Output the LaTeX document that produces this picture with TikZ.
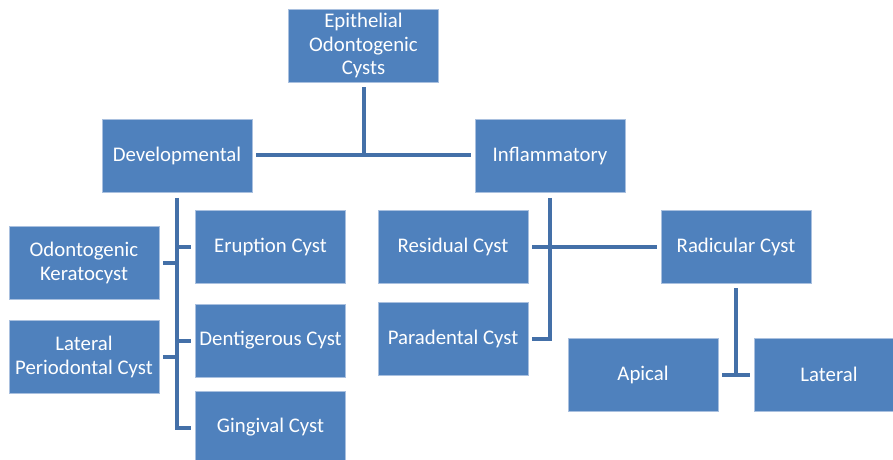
\documentclass[tikz,border=0pt]{standalone}
\usepackage{fontspec}
\setmainfont{Carlito}
\usetikzlibrary{calc}
\definecolor{boxblue}{HTML}{4F81BD}
\definecolor{boxedge}{HTML}{A9C0DF}
\definecolor{linkblue}{HTML}{4470A8}
\tikzset{
  box/.style={rectangle, fill=boxblue, draw=boxedge, line width=0.8pt,
    minimum width=150pt, minimum height=73pt, inner sep=2pt,
    text=white, align=center, font=\fontsize{20.8}{23.5}\selectfont},
  conn/.style={draw=linkblue, line width=4pt, line join=miter}
}
\begin{document}
\begin{tikzpicture}[x=1pt,y=-1pt]
\useasboundingbox (0,0) rectangle (893,459);
\clip (0,0) rectangle (893,459);
\node[box] (epi) at (363.5,45.5) {Epithelial\\Odontogenic\\Cysts};
\node[box] (dev) at (177,156) {Developmental};
\node[box] (inf) at (550,156) {Inflammatory};
\node[box] (erup) at (270.5,246.5) {Eruption Cyst};
\node[box] (dent) at (270.5,340.5) {Dentigerous Cyst};
\node[box] (ging) at (270.5,427.5) {Gingival Cyst};
\node[box] (okc) at (84,263) {Odontogenic\\Keratocyst};
\node[box] (lpc) at (84,357) {Lateral\\Periodontal Cyst};
\node[box] (res) at (453,246.5) {Residual Cyst};
\node[box] (para) at (453,339) {Paradental Cyst};
\node[box] (rad) at (736,246.5) {Radicular Cyst};
\node[box] (api) at (643,374.5) {Apical};
\node[box] (lat) at (829,374.5) {Lateral};
% top level
\draw[conn] ($(dev.east)+(4,-1)$) -- ($(inf.west)+(-4,-1)$);
\draw[conn] ($(epi.south)+(0,5)$) -- ($(epi.south |- dev.east)+(0,-1)$);
% developmental
\draw[conn] ($(dev.south)+(0,5)$) |- ($(ging.west)+(-4,0)$);
\draw[conn] (dev.south |- erup.west) -- ($(erup.west)+(-4,0)$);
\draw[conn] (dev.south |- dent.west) -- ($(dent.west)+(-4,0)$);
\draw[conn] (dev.south |- okc.east) -- ($(okc.east)+(4,0)$);
\draw[conn] (dev.south |- lpc.east) -- ($(lpc.east)+(4,0)$);
% inflammatory
\draw[conn] ($(inf.south)+(0,5)$) |- ($(para.east)+(4,0)$);
\draw[conn] ($(res.east)+(4,0)$) -- ($(rad.west)+(-4,0)$);
% radicular
\draw[conn] ($(rad.south)+(0,5)$) -- (rad.south |- api.east);
\draw[conn] ($(api.east)+(4,0)$) -- ($(lat.west)+(-4,0)$);
\end{tikzpicture}
\end{document}
